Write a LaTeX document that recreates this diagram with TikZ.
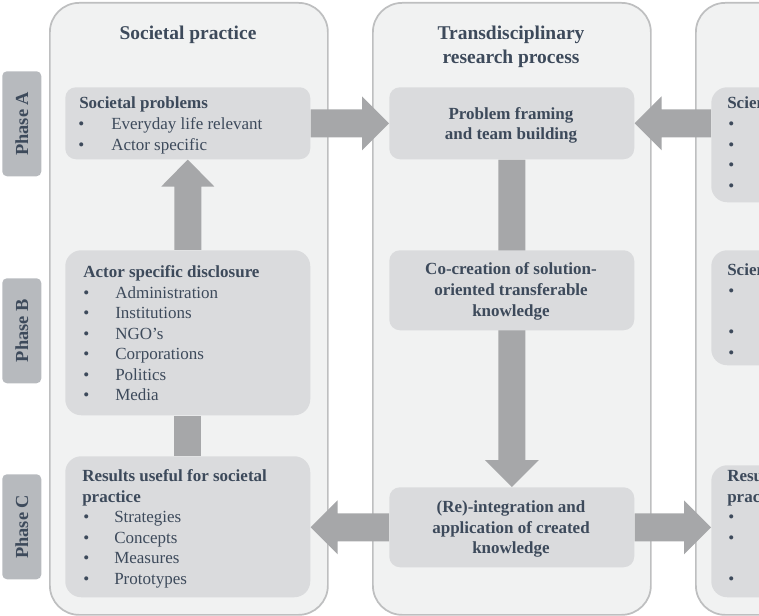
\documentclass[tikz,border=0pt]{standalone}
\usepackage{fontspec}
\setmainfont{Liberation Serif}
\usetikzlibrary{calc}
\definecolor{colfill}{HTML}{F1F2F2}
\definecolor{colline}{HTML}{BEBFC0}
\definecolor{boxfill}{HTML}{DADBDD}
\definecolor{arrowc}{HTML}{A6A7A9}
\definecolor{phasec}{HTML}{B7BABE}
\definecolor{txt}{HTML}{3D4A5B}
\pgfdeclarelayer{colbg}
\pgfdeclarelayer{arrlayer}
\pgfsetlayers{colbg,arrlayer,main}
\begin{document}
\begin{tikzpicture}[x=0.75pt,y=-0.75pt,
  column/.style={draw=colline,fill=colfill,line width=1.3pt,rounded corners=22pt,anchor=north west,inner sep=0pt,minimum width=208.5pt,minimum height=459pt},
  gbox/.style={fill=boxfill,rounded corners=8pt,anchor=north west,inner sep=0pt,minimum width=183.75pt},
  bigbox/.style={gbox,rounded corners=12pt},
  phasebox/.style={fill=phasec,rounded corners=3.5pt,anchor=north west,inner sep=0pt,minimum width=29.25pt,minimum height=78.75pt},
  blockarrow/.style={fill=arrowc},
  ln/.style={anchor=base west,inner sep=0pt,text=txt,font=\fontsize{12.75}{15}\selectfont},
  hd/.style={ln,font=\fontsize{12.75}{15}\selectfont\bfseries},
  ctr/.style={anchor=base,inner sep=0pt,text=txt,font=\fontsize{12.75}{15}\selectfont\bfseries},
  ttl/.style={anchor=base,inner sep=0pt,text=txt,font=\fontsize{14.6}{17}\selectfont\bfseries},
  phtxt/.style={rotate=90,inner sep=0pt,text=txt,font=\fontsize{13.8}{16}\selectfont\bfseries}]
\useasboundingbox (0,0) rectangle (759,616);
\clip (0,0) rectangle (759,616);

% columns
\begin{pgfonlayer}{colbg}
\node[column] (c1) at (49,2) {};
\node[column] (c2) at (372,2) {};
\node[column] (c3) at (695,2) {};
\end{pgfonlayer}

% phase labels
\node[phasebox] (pa) at (2,71) {};
\node[phasebox] (pb) at (2,278) {};
\node[phasebox] (pc) at (2,474) {};
\node[phtxt] (pat) at (pa.center) {Phase A};
\node[phtxt] (pbt) at (pb.center) {Phase B};
\node[phtxt] (pct) at (pc.center) {Phase C};

% boxes
\node[gbox,minimum height=54pt] (sp) at (65,87) {};
\node[bigbox,minimum height=123.75pt] (ad) at (65,250) {};
\node[bigbox,minimum height=105.75pt] (rs) at (65,456) {};
\node[gbox,minimum height=54pt] (pf) at (389,87) {};
\node[gbox,minimum height=60pt] (cc) at (389,250) {};
\node[gbox,minimum height=60pt] (ri) at (389,487) {};
\node[bigbox,minimum height=86.25pt] (sc1) at (711,87) {};
\node[bigbox,minimum height=86.25pt] (sc2) at (711,250) {};
\node[bigbox,minimum height=99pt] (sc3) at (711,465) {};

% block arrows
\begin{pgfonlayer}{arrlayer}
\fill[blockarrow] ($(sp.east)+(0,-14)$) -- ($(pf.west)+(-27,-14)$) -- ($(pf.west)+(-27,-27)$) -- (pf.west)
  -- ($(pf.west)+(-27,27)$) -- ($(pf.west)+(-27,14)$) -- ($(sp.east)+(0,14)$) -- cycle;
\fill[blockarrow] ($(sc1.west |- pf.east)+(0,-14)$) -- ($(pf.east)+(27,-14)$) -- ($(pf.east)+(27,-27)$) -- (pf.east)
  -- ($(pf.east)+(27,27)$) -- ($(pf.east)+(27,14)$) -- ($(sc1.west |- pf.east)+(0,14)$) -- cycle;
\fill[blockarrow] ($(ad.north)+(-13.5,0)$) -- ($(sp.south)+(-13.5,27)$) -- ($(sp.south)+(-26.5,27)$) -- (sp.south)
  -- ($(sp.south)+(26.5,27)$) -- ($(sp.south)+(13.5,27)$) -- ($(ad.north)+(13.5,0)$) -- cycle;
\fill[blockarrow] ($(ad.south)+(-13.5,0)$) rectangle ($(rs.north)+(13.5,0)$);
\fill[blockarrow] ($(pf.south)+(-13.5,0)$) -- ($(ri.north)+(-13.5,-27)$) -- ($(ri.north)+(-27,-27)$) -- (ri.north)
  -- ($(ri.north)+(27,-27)$) -- ($(ri.north)+(13.5,-27)$) -- ($(pf.south)+(13.5,0)$) -- cycle;
\fill[blockarrow] ($(ri.west)+(0,-14)$) -- ($(rs.east |- ri.west)+(27,-14)$) -- ($(rs.east |- ri.west)+(27,-27)$) -- (rs.east |- ri.west)
  -- ($(rs.east |- ri.west)+(27,27)$) -- ($(rs.east |- ri.west)+(27,14)$) -- ($(ri.west)+(0,14)$) -- cycle;
\fill[blockarrow] ($(ri.east)+(0,-14)$) -- ($(sc3.west |- ri.east)+(-27,-14)$) -- ($(sc3.west |- ri.east)+(-27,-27)$) -- (sc3.west |- ri.east)
  -- ($(sc3.west |- ri.east)+(-27,27)$) -- ($(sc3.west |- ri.east)+(-27,14)$) -- ($(ri.east)+(0,14)$) -- cycle;
\end{pgfonlayer}

% column titles
\node[ttl] (t1) at (188,40) {Societal practice};
\node[ttl] (t2a) at (511,39.5) {Transdisciplinary};
\node[ttl] (t2b) at (511,63.5) {research process};
\node[ttl] (t3) at (834,40) {Scientific practice};

% societal problems
\node[hd] (sph) at (79,109) {Societal problems};
\node[ln] (spb1) at (78,130) {•};
\node[ln] (spi1) at (111,130) {Everyday life relevant};
\node[ln] (spb2) at (78,150.5) {•};
\node[ln] (spi2) at (111,150.5) {Actor specific};

% actor specific disclosure
\node[hd] (adh) at (83,277.7) {Actor specific disclosure};
\foreach \y/\t [count=\i] in {298.3/Administration,318.8/Institutions,339.3/NGO’s,359.8/Corporations,380.3/Politics,400.8/Media}{
  \node[ln] (adb\i) at (83,\y) {•};
  \node[ln] (adi\i) at (115,\y) {\t};
}

% results useful for societal practice
\node[hd] (rsh1) at (82,481.7) {Results useful for societal};
\node[hd] (rsh2) at (82,502.2) {practice};
\foreach \y/\t [count=\i] in {522.7/Strategies,543.2/Concepts,563.7/Measures,584.2/Prototypes}{
  \node[ln] (rsb\i) at (83,\y) {•};
  \node[ln] (rsi\i) at (114,\y) {\t};
}

% middle column
\node[ctr] (pft1) at (511,119.5) {Problem framing};
\node[ctr] (pft2) at (511,140) {and team building};
\node[ctr] (cct1) at (511,275) {Co-creation of solution-};
\node[ctr] (cct2) at (511,295.5) {oriented transferable};
\node[ctr] (cct3) at (511,316) {knowledge};
\node[ctr] (rit1) at (511,512.5) {(Re)-integration and};
\node[ctr] (rit2) at (511,533) {application of created};
\node[ctr] (rit3) at (511,553.5) {knowledge};

% right column (cut off)
\node[hd] (sc1h) at (727,109) {Scientific problems};
\foreach \y [count=\i] in {130,150.5,171,191.5}{\node[ln] (sc1b\i) at (728,\y) {•};}
\node[hd] (sc2h) at (727,276) {Scientific disclosure};
\foreach \y [count=\i] in {296.5,337.5,358}{\node[ln] (sc2b\i) at (728,\y) {•};}
\node[hd] (sc3h1) at (727,481.7) {Results useful for scientific};
\node[hd] (sc3h2) at (727,502.2) {practice};
\foreach \y [count=\i] in {522.7,543.2,584.2}{\node[ln] (sc3b\i) at (728,\y) {•};}
\end{tikzpicture}
\end{document}
